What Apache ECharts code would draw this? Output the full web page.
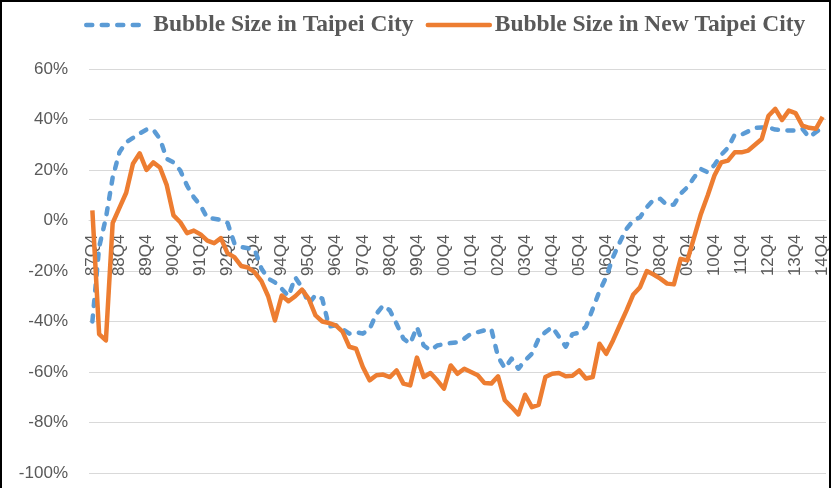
<!DOCTYPE html>
<html>
<head>
<meta charset="utf-8">
<script src="https://cdn.jsdelivr.net/npm/echarts@6/dist/echarts.min.js"></script>
<style>
  html, body { margin: 0; padding: 0; background: #fff; }
  #wrap { position: relative; width: 831px; height: 488px; }
  #chart { width: 831px; height: 488px; }
  #frame {
    position: absolute; left: 0; top: 0; width: 831px; height: 488px;
    box-sizing: border-box; border: 2px solid #000; border-bottom: none;
    pointer-events: none;
  }
</style>
</head>
<body>
<div id="wrap">
  <div id="chart"></div>
  <div id="frame"></div>
</div>
<script>
// quarter labels, 87Q4 .. 14Q4
const years = ['87','88','89','90','91','92','93','94','95','96','97','98','99','00',
  '01','02','03','04','05','06','07','08','09','10','11','12','13','14']
const quarters = ['87Q4']
for (let y = 1; y < years.length; y++) {
  for (let q = 1; q <= 4; q++) quarters.push(years[y] + 'Q' + q)
}

const yTicks = { min: -100, max: 60, step: 20 }

// values (%)
const taipei = [
  -40, -10.5, 1, 17, 27, 31, 32.7, 34.5, 36, 36, 32.3, 24.4, 23,
  19.8, 13.8, 9.2, 5.9, 1, 0.7, 0.3, -1, -9, -10.5, -11, -11.5,
  -19, -23, -24.5, -27, -30, -22.5, -26.5, -33, -29.5, -31, -42, -41.5,
  -43, -44.8, -44.2, -44.8, -43, -37, -33.6, -35.6, -41, -46.8, -48.8, -42.2,
  -49.5, -51.4, -49.5, -49, -48.5, -48.2, -46.8, -44.8, -44.2, -43.5, -43, -54,
  -58.5, -54.7, -58.7, -55.4, -52.8, -46.8, -44.2, -42.2, -46, -50, -45, -44.5,
  -42, -35, -28, -22.4, -14.5, -8.6, -3.3, 0, 1.3, 5.3, 8.2, 8.6,
  6, 6.3, 10.6, 13.2, 17.1, 20.4, 19.1, 22, 26, 28.8, 34, 34,
  35.3, 36.7, 36.8, 36.9, 36, 35.8, 35.6, 35.6, 36.3, 33, 35, 36.9
]
const newTaipei = [
  4, -45, -47.5, -1, 5, 11, 22.5, 26.6, 20, 23, 21, 14, 2,
  -0.7, -5, -4, -5.5, -8, -9, -7, -13, -14.5, -18, -18.6, -20.5,
  -24, -30, -39.6, -29.7, -32, -30, -27.4, -31, -37.6, -40, -40.6, -41.5,
  -44, -50, -50.8, -58, -63.3, -61.3, -61, -62, -59.4, -64.6, -65.3, -54.3,
  -62, -60.4, -63.3, -66.6, -57.4, -60.7, -58.7, -60, -61.3, -64.4, -64.6, -61.7,
  -71.2, -73.9, -76.8, -69, -73.9, -73, -62, -60.7, -60.4, -61.7, -61.5, -59.4,
  -62.6, -62, -48.8, -52.8, -47.5, -41.5, -35.6, -29.3, -26.4, -20, -21.4, -23,
  -25, -25.3, -15.2, -15.8, -6.6, 2.6, 9.9, 17.8, 23, 23.7, 27, 27,
  27.7, 30, 32.3, 41.5, 44.2, 39.8, 43.5, 42.5, 37.6, 36.7, 36.3, 41
]

const chart = echarts.init(document.getElementById('chart'))
const labelColor = '#595959'

const grid = { left: 89, right: 5, top: 69, bottom: 15 }
const plotHeight = 488 - grid.top - grid.bottom
// lift the category axis from the bottom edge up to the 0% line
const zeroOffset = -plotHeight * (0 - yTicks.min) / (yTicks.max - yTicks.min)

chart.setOption({
  backgroundColor: '#fff',
  animation: false,
  legend: {
    left: 79,
    top: 8,
    itemWidth: 62,
    itemHeight: 14,
    itemGap: 12,
    itemStyle: { opacity: 0 },
    lineStyle: { width: 4.5, cap: 'round' },
    textStyle: {
      fontFamily: 'Liberation Serif',
      fontWeight: 'bold',
      fontSize: 23.5,
      color: labelColor
    },
    data: ['Bubble Size in Taipei City', 'Bubble Size in New Taipei City']
  },
  grid: Object.assign({ containLabel: false, outerBoundsMode: 'none' }, grid),
  xAxis: {
    type: 'category',
    data: quarters,
    boundaryGap: true,
    position: 'bottom',
    offset: zeroOffset,
    axisLine: { onZero: false, lineStyle: { color: '#d9d9d9', width: 1 } },
    axisTick: { show: false },
    axisLabel: {
      interval: 3,
      rotate: 90,
      margin: 14,
      fontFamily: 'Liberation Sans',
      fontSize: 17,
      color: labelColor
    }
  },
  yAxis: {
    type: 'value',
    min: yTicks.min,
    max: yTicks.max,
    interval: yTicks.step,
    axisLine: { show: false },
    axisTick: { show: false },
    splitLine: { lineStyle: { color: '#d9d9d9', width: 1.2 } },
    axisLabel: {
      formatter: '{value}%',
      margin: 21,
      fontFamily: 'Liberation Sans',
      fontSize: 17,
      color: labelColor
    }
  },
  series: [
    {
      name: 'Bubble Size in Taipei City',
      type: 'line',
      data: taipei,
      symbol: 'none',
      itemStyle: { color: '#5B9BD5' },
      lineStyle: { color: '#5B9BD5', width: 4.5, type: [6, 9.5], cap: 'round', join: 'round' }
    },
    {
      name: 'Bubble Size in New Taipei City',
      type: 'line',
      data: newTaipei,
      symbol: 'none',
      itemStyle: { color: '#ED7D31' },
      lineStyle: { color: '#ED7D31', width: 4.5, join: 'round' }
    }
  ]
})
</script>
</body>
</html>
